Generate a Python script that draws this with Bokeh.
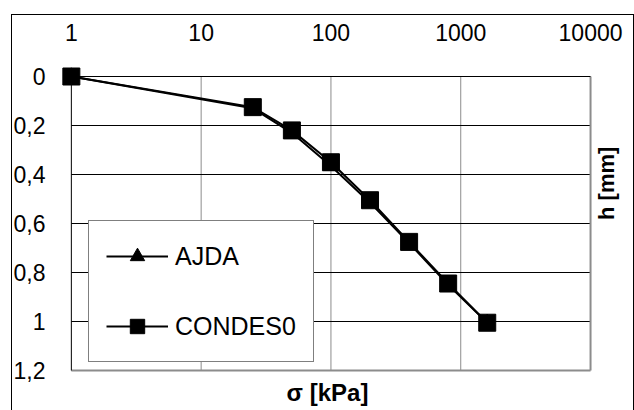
import math
from bokeh.plotting import figure
from bokeh.models import (FixedTicker, CustomJSTickFormatter, LinearAxis, LogAxis,
                          Legend, LegendItem, InlineStyleSheet)
from bokeh.embed import file_html
from bokeh.resources import INLINE

# data
sigma = [1, 25, 50, 100, 200, 400, 800, 1600]
h_ajda = [0, 0.13, 0.23, 0.365, 0.515, 0.68, 0.85, 1.005]
h_condes = [0, 0.125, 0.22, 0.35, 0.505, 0.675, 0.845, 1.005]
x_ticks = [1, 10, 100, 1000, 10000]
y_ticks = [0, 0.2, 0.4, 0.6, 0.8, 1.0, 1.2]

FONT = "Liberation Sans"

# plot area is 527 x 294 px; the frame is padded so edge markers are not clipped
PX_DECADE = 527 / 4
PX_UNIT = 294 / 1.2
PAD_LT, PAD_RB = 10, 3
x_lo, x_hi = x_ticks[0], x_ticks[-1]
y_lo, y_hi = y_ticks[0], y_ticks[-1]

p = figure(width=634, height=410, x_axis_type="log",
           x_range=(x_lo * 10 ** (-PAD_LT / PX_DECADE), x_hi * 10 ** (PAD_RB / PX_DECADE)),
           y_range=(y_hi + PAD_RB / PX_UNIT, y_lo - PAD_LT / PX_UNIT),
           x_axis_location="above", output_backend="svg", toolbar_location=None,
           min_border_left=61, min_border_right=33, min_border_top=66, min_border_bottom=37)
p.background_fill_color = "white"
p.border_fill_color = "white"
p.outline_line_color = None
p.xgrid.visible = False
p.ygrid.visible = False

# top x axis (labels only)
xa = p.xaxis[0]
xa.ticker = FixedTicker(ticks=x_ticks)
xa.formatter = CustomJSTickFormatter(code="return Math.round(tick).toString();")
xa.major_tick_line_color = None
xa.minor_tick_line_color = None
xa.axis_line_color = None
xa.major_label_text_font = FONT
xa.major_label_text_font_size = "23px"
xa.major_label_text_color = "black"
xa.major_label_standoff = 20

# left y axis (labels only)
ya = p.yaxis[0]
ya.ticker = FixedTicker(ticks=y_ticks)
ya.formatter = CustomJSTickFormatter(code="return (Math.round(tick*10)/10).toString().replace('.', ',');")
ya.major_tick_line_color = None
ya.minor_tick_line_color = None
ya.axis_line_color = None
ya.major_label_text_font = FONT
ya.major_label_text_font_size = "23px"
ya.major_label_text_color = "black"
ya.major_label_standoff = 10

# grid lines, axis lines and plot-area border drawn within the plot area
gx = x_ticks[1:-1]
p.segment(x0=gx, y0=[y_lo] * len(gx), x1=gx, y1=[y_hi] * len(gx), line_color="#8c8c8c", line_width=1)
gy = y_ticks[1:-1]
p.segment(x0=[x_lo] * len(gy), y0=gy, x1=[x_hi] * len(gy), y1=gy, line_color="black", line_width=1)
p.segment(x0=[x_hi, x_lo], y0=[y_lo, y_hi], x1=[x_hi, x_hi], y1=[y_hi, y_hi], line_color="#8c8c8c", line_width=2)
p.segment(x0=[x_lo, x_lo], y0=[y_lo, y_lo], x1=[x_hi, x_lo], y1=[y_lo, y_hi], line_color="black", line_width=1)

# bottom axis title
xb = LogAxis(ticker=FixedTicker(ticks=[]), axis_label="σ [kPa]")
xb.axis_line_color = None
xb.major_tick_line_color = None
xb.minor_tick_line_color = None
xb.axis_label_text_font = FONT
xb.axis_label_text_font_style = "bold"
xb.axis_label_text_font_size = "24px"
xb.axis_label_text_color = "black"
xb.axis_label_standoff = 5
p.add_layout(xb, "below")

# right axis title
yr = LinearAxis(ticker=FixedTicker(ticks=[]), axis_label="h [mm]")
yr.axis_line_color = None
yr.major_tick_line_color = None
yr.minor_tick_line_color = None
yr.axis_label_text_font = FONT
yr.axis_label_text_font_style = "bold"
yr.axis_label_text_font_size = "22px"
yr.axis_label_text_color = "black"
yr.axis_label_standoff = 13
yr.axis_label_orientation = math.pi / 2
p.add_layout(yr, "right")

# series
l1 = p.line(sigma, h_ajda, line_color="black", line_width=2)
s1 = p.scatter(sigma, h_ajda, marker="triangle", size=15, fill_color="black", line_color="black")
l2 = p.line(sigma, h_condes, line_color="black", line_width=2)
s2 = p.scatter(sigma, h_condes, marker="square", size=17, fill_color="black", line_color="black")

legend = Legend(items=[LegendItem(label="AJDA", renderers=[l1, s1]),
                       LegendItem(label="CONDES0", renderers=[l2, s2])],
                location=(27, 11))
legend.margin = 0
legend.padding = 17
legend.spacing = 34
legend.glyph_width = 62
legend.glyph_height = 36
legend.label_height = 36
legend.label_standoff = 7
legend.label_text_font = FONT
legend.label_text_font_size = "25px"
legend.label_text_color = "black"
legend.border_line_color = "black"
legend.border_line_width = 1
legend.background_fill_color = "white"
legend.background_fill_alpha = 1
p.add_layout(legend)

p.stylesheets = [InlineStyleSheet(css=":host::after { content: ''; position: absolute; left: 11px; top: 14px; width: 623px; height: 420px; border: 1px solid black; box-sizing: border-box; pointer-events: none; }")]

open("out.html", "w").write(file_html(p, INLINE))
